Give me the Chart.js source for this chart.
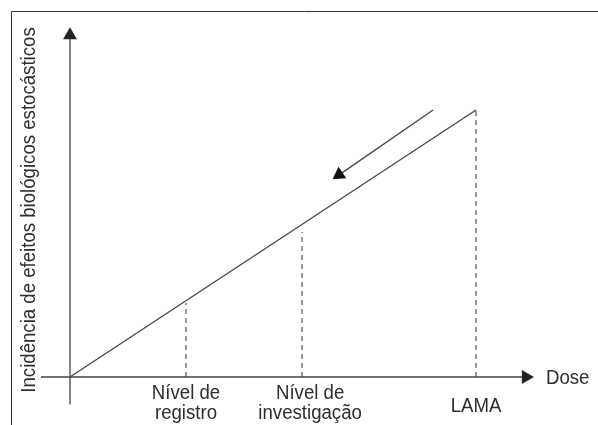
<!DOCTYPE html>
<html>
<head>
<meta charset="utf-8">
<script src="https://cdn.jsdelivr.net/npm/chart.js@4/dist/chart.umd.min.js"></script>
<style>
    html, body { margin: 0; padding: 0; background: #fff; }
    #chart { display: block; }
</style>
</head>
<body>
<canvas id="chart" width="598" height="425"></canvas>
<script>
// Dose levels (arbitrary units) and the incidence on the line
var levelNames = ["Nível de registro", "Nível de investigação", "LAMA"];
var levelDoses = [1, 2, 3.5];
var levelTops = [0.97, 1.9, 3.5];      // where each dashed line stops
var lineDoses = [0, 3.5];
var lineIncidence = [0, 3.5];

// Arrow pointing down the line (from LAMA towards lower levels)
var arrowDoses = [3.13, 2.32];
var arrowIncidence = [3.5, 2.65];

// Label lines under the x axis
var labelLines = [["Nível de", "registro"], ["Nível de", "investigação"], ["LAMA"]];
var labelDoses = [1, 2.07, 3.5];

var yTitle = "Incidência de efeitos biológicos estocásticos";
var xTitle = "Dose";

var ink = '#454545';
var textColor = '#2e2e2e';
var font = '19.5px "Liberation Sans", Arial, sans-serif';
var squeeze = 0.955;   // the original lettering is a bit narrow

function toPoints(xs, ys)
{
    var pts = [];
    for (var i = 0; i < xs.length; i++) pts.push({x: xs[i], y: ys[i]});
    return pts;
}

// draw text narrowed along its own direction
function drawText(ctx, text, x, y, align, angle)
{
    ctx.save();
    ctx.translate(x, y);
    if (angle) ctx.rotate(angle);
    ctx.scale(squeeze, 1);
    ctx.textAlign = align;
    ctx.fillText(text, 0, 0);
    ctx.restore();
}

var datasets = [];

// x axis with arrow head
datasets.push({
    data: toPoints([-0.25, 3.93], [0, 0]),
    borderColor: ink, borderWidth: 1.3,
    pointStyle: 'triangle', pointRotation: 90,
    pointRadius: [0, 8], backgroundColor: '#222', pointBorderWidth: 0
});

// y axis with arrow head
datasets.push({
    data: toPoints([0, 0], [-0.36, 4.48]),
    borderColor: ink, borderWidth: 1.3,
    pointStyle: 'triangle', pointRotation: 0,
    pointRadius: [0, 8], backgroundColor: '#222', pointBorderWidth: 0
});

// the linear dose-incidence line
datasets.push({
    data: toPoints(lineDoses, lineIncidence),
    borderColor: ink, borderWidth: 1.3, pointRadius: 0
});

// dashed verticals at each level
levelDoses.forEach(function (dose, i) {
    datasets.push({
        label: levelNames[i],
        data: toPoints([dose, dose], [0, levelTops[i]]),
        borderColor: '#555', borderWidth: 1.2, borderDash: [5, 4], pointRadius: 0
    });
});

// arrow beside the line
datasets.push({
    data: toPoints(arrowDoses, arrowIncidence),
    borderColor: ink, borderWidth: 1.3,
    pointStyle: 'triangle', pointRotation: 235.7,
    pointRadius: [0, 8], backgroundColor: '#111', pointBorderWidth: 0
});

var textPlugin = {
    id: 'textPlugin',
    afterDraw: function (chart) {
        var ctx = chart.ctx;
        var xs = chart.scales.x, ys = chart.scales.y;
        ctx.save();

        // frame of the figure
        ctx.strokeStyle = '#333';
        ctx.lineWidth = 1;
        ctx.beginPath();
        ctx.moveTo(11.5, 425);
        ctx.lineTo(11.5, 11.5);
        ctx.lineTo(598, 11.5);
        ctx.stroke();

        ctx.fillStyle = textColor;
        ctx.font = font;
        ctx.textBaseline = 'middle';

        // level labels
        labelLines.forEach(function (lines, i) {
            var px = xs.getPixelForValue(labelDoses[i]);
            if (lines.length == 1) {
                drawText(ctx, lines[0], px, 407, 'center');
            } else {
                drawText(ctx, lines[0], px, 394, 'center');
                drawText(ctx, lines[1], px, 414, 'center');
            }
        });

        // x axis title
        drawText(ctx, xTitle, 546, ys.getPixelForValue(0) + 2, 'left');

        // y axis title, rotated
        drawText(ctx, yTitle, 30, 210, 'center', -Math.PI / 2);
        ctx.restore();
    }
};

new Chart(document.getElementById('chart'), {
    type: 'scatter',
    data: { datasets: datasets },
    options: {
        responsive: false,
        animation: false,
        showLine: true,
        layout: { padding: 0, autoPadding: false },
        plugins: {
            legend: { display: false },
            tooltip: { enabled: false }
        },
        scales: {
            x: { type: 'linear', display: false, min: -0.6034, max: 4.5517 },
            y: { type: 'linear', display: false, min: -0.629, max: 4.942 }
        }
    },
    plugins: [textPlugin]
});
</script>
</body>
</html>
